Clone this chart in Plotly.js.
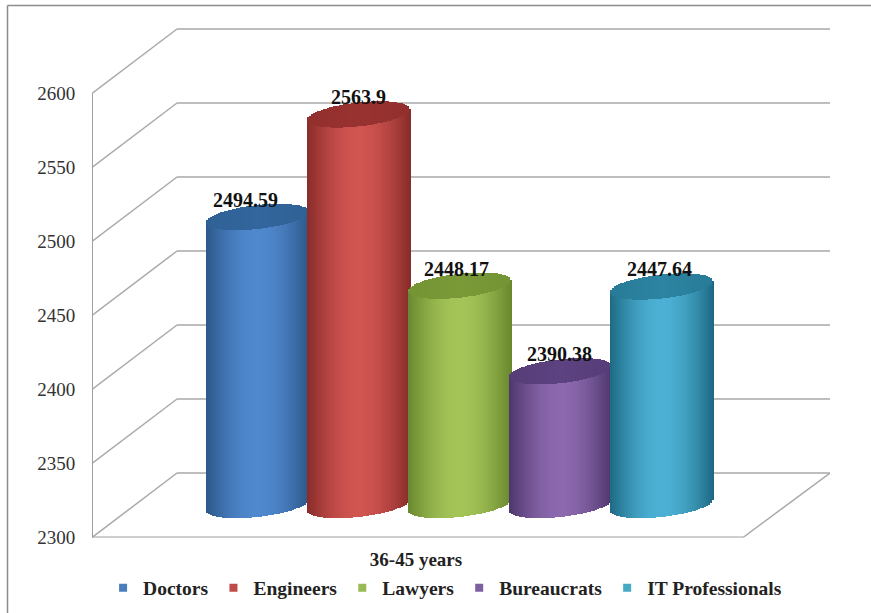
<!DOCTYPE html>
<html><head><meta charset="utf-8">
<script src="https://cdn.plot.ly/plotly-3.0.1.min.js"></script>
<style>html,body{margin:0;padding:0;background:#fff}</style></head>
<body><div id="chart" style="width:871px;height:613px"></div>
<script>
// Data
const seriesNames = ["Doctors","Engineers","Lawyers","Bureaucrats","IT Professionals"];
const seriesValues = [2494.59,2563.9,2448.17,2390.38,2447.64];
const categoryLabels = ["36-45 years"];
const tickValues = [2300,2350,2400,2450,2500,2550,2600];

// Styles
const legendColors = ["#4a7ebb","#be4b48","#98b954","#7d60a0","#46aac5"];
const darkColors  = [[44,88,138],[136,44,42],[104,136,46],[76,54,108],[30,106,132]];
const lightColors = [[80,136,206],[208,84,80],[164,196,88],[140,104,174],[76,176,212]];
const capColors   = [[50,102,156],[152,50,48],[122,154,56],[92,66,128],[44,132,162]];

// Geometry of the picture
const FONT = '"Liberation Serif","Times New Roman",serif';
const W=871,H=613, PL=92, PR=830, PT=20, PB=537.5;
const PX_PER_UNIT=1.48, BARX0=257.5, BARSTEP=101;
const FRONT_BACK_DX=85, BACK_RIGHT=830, FRONT_RIGHT=743;
const BACK_DY=64.5, BAR_DY=32.5;
const A=51.5, B=12, TILT=5.5, STRIP=2;
const yMax=2300+(PB-PT)/PX_PER_UNIT;
const xOf=p=>(p-BARX0)/BARSTEP;
const xRange=[xOf(PL),xOf(PR)];
const y2Range=[2300-BAR_DY/PX_PER_UNIT,yMax-BAR_DY/PX_PER_UNIT];
const mix=(a,b,t)=>`rgb(${a.map((c,i)=>Math.round(c+(b[i]-c)*t)).join(",")})`;

const traces=[];
// legend swatches
seriesNames.forEach((n,i)=>traces.push({type:"scatter",mode:"markers",x:[null],y:[null],name:n,
  marker:{symbol:"square",size:8,color:legendColors[i]},hoverinfo:"skip"}));

// cylinders as thin bars
seriesValues.forEach((v,i)=>{
  const xs=[],bodyBase=[],bodyH=[],bodyC=[],capBase=[],capH=[],capC=[];
  for(let px=-A;px<A;px+=STRIP){
    const u=(px+STRIP/2)/A, arc=B*Math.sqrt(Math.max(0,1-u*u))/PX_PER_UNIT, tl=TILT*u/PX_PER_UNIT;
    xs.push(i+(px+STRIP/2)/BARSTEP);
    const bot=2300-arc+tl, mid=v+tl;
    bodyBase.push(bot); bodyH.push(mid-bot);
    bodyC.push(mix(darkColors[i],lightColors[i],Math.cos(u*Math.PI/2)));
    capBase.push(v-arc+tl); capH.push(2*arc);
    capC.push(mix(capColors[i],darkColors[i],0.35*Math.abs(u)));
  }
  const common={type:"bar",x:xs,width:(STRIP+0.4)/BARSTEP,yaxis:"y2",showlegend:false,hoverinfo:"skip"};
  traces.push(Object.assign({},common,{y:bodyH,base:bodyBase,marker:{color:bodyC,line:{width:0}},name:seriesNames[i]}));
  traces.push(Object.assign({},common,{y:capH,base:capBase,marker:{color:capC,line:{width:0}},name:seriesNames[i]+" top"}));
});

// walls
const GRID="#a9a9a9";
const shapes=[];
const dyU=BACK_DY/PX_PER_UNIT, xBack=xOf(PL+FRONT_BACK_DX), xBR=xOf(BACK_RIGHT), xFR=xOf(FRONT_RIGHT), xL=xOf(PL);
const ln=(x0,y0,x1,y1,c,w)=>({type:"line",layer:"below",xref:"x",yref:"y",x0,y0,x1,y1,line:{color:c||GRID,width:w||1.5}});
tickValues.forEach(t=>{
  shapes.push(ln(xL,t,xBack,t+dyU));
  shapes.push(ln(xBack,t+dyU,xBR,t+dyU));
  shapes.push(ln(xL-4/BARSTEP,t,xL,t));
});
shapes.push(ln(xL,2300,xL,2600,"#a0a0a0",2));
shapes.push(ln(xL,2300,xFR,2300,"#a0a0a0",2));
shapes.push(ln(xFR,2300,xBR,2300+dyU));
shapes.push(ln(xFR,2300,xFR,2300-4/PX_PER_UNIT));
shapes.push(ln(xL,2300,xL,2300-4/PX_PER_UNIT));
// outer frame (paper now equals the whole page)
const fx=p=>p/W, fy=p=>1-p/H;
[[7.5,613,7.5,5.5],[7.5,5.5,871,5.5]].forEach(s=>shapes.push({type:"line",layer:"below",xref:"paper",yref:"paper",
  x0:fx(s[0]),y0:fy(s[1]),x1:fx(s[2]),y1:fy(s[3]),line:{color:"#8c8c8c",width:1.5}}));

// value labels
const labelShiftX=[-12,0,-3,-1.5,-2.5];
const annotations=seriesValues.map((v,i)=>({xref:"x",yref:"y2",x:i,y:v,text:"<b>"+v+"</b>",showarrow:false,
  xanchor:"center",yanchor:"middle",xshift:labelShiftX[i],yshift:17,font:{family:FONT,size:20,color:"#111"}}));

Plotly.newPlot("chart",traces,{
  width:W,height:H,showlegend:true,
  margin:{l:0,r:0,t:0,b:0,pad:0},
  paper_bgcolor:"#fff",plot_bgcolor:"rgba(0,0,0,0)",
  barmode:"overlay",bargap:0,
  xaxis:{domain:[PL/W,PR/W],range:xRange,showgrid:false,zeroline:false,showline:false,tickmode:"array",
    tickvals:[xOf(416)],ticktext:categoryLabels.map(s=>"<b>"+s+"</b>"),ticks:"outside",ticklen:4.5,tickcolor:"rgba(0,0,0,0)",
    tickfont:{family:FONT,size:19,color:"#222"}},
  yaxis:{domain:[1-PB/H,1-PT/H],range:[2300,yMax],showgrid:false,zeroline:false,showline:false,tickmode:"array",tickvals:tickValues,
    ticktext:tickValues.map(String),ticks:"outside",ticklen:12,tickcolor:"rgba(0,0,0,0)",
    tickfont:{family:FONT,size:19,color:"#333"}},
  yaxis2:{domain:[1-PB/H,1-PT/H],range:y2Range,overlaying:"y",visible:false,showgrid:false,zeroline:false},
  legend:{orientation:"h",x:0.511,xanchor:"center",y:fy(588),yanchor:"middle",traceorder:"normal",
    bgcolor:"rgba(0,0,0,0)",font:{family:FONT,size:19.5,color:"#222",weight:700},itemwidth:30},
  shapes,annotations
},{displayModeBar:false,staticPlot:true});
</script></body></html>
